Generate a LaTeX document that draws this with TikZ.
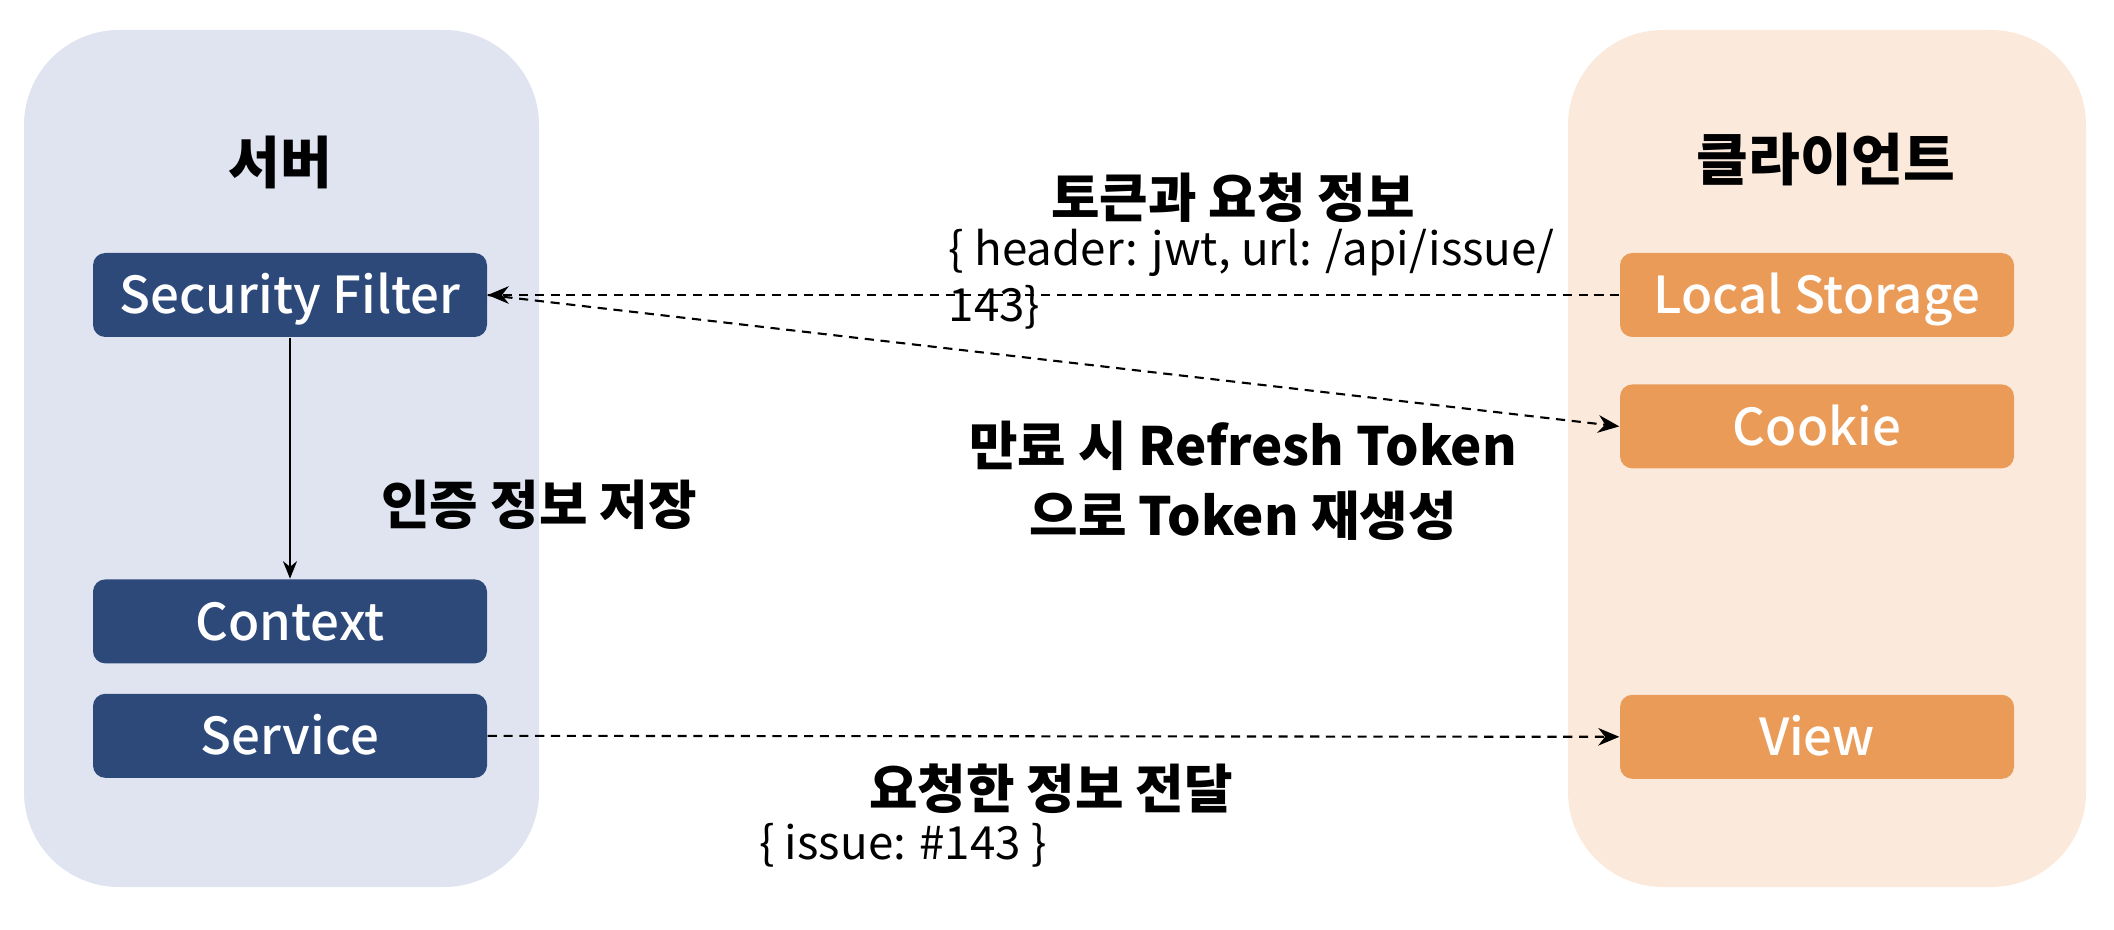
\documentclass[tikz,border=0pt]{standalone}
\usepackage{fontspec}
\setmainfont{Noto Sans CJK KR}
\newfontfamily\medfont{Noto Sans CJK KR Medium}
\usetikzlibrary{arrows.meta, positioning}
\definecolor{srvbg}{HTML}{DFE4F0}
\definecolor{clibg}{HTML}{FBEADC}
\definecolor{navycol}{HTML}{2C497A}
\definecolor{orangecol}{HTML}{EA9B58}

\begin{document}
\begin{tikzpicture}[
  panel/.style={fill=#1, draw=none, rounded corners=0.95cm},
  box/.style={rectangle, rounded corners=3.5pt, fill=#1, text=white,
              minimum width=3.94cm, minimum height=0.84cm, inner sep=0pt,
              text height=10.6pt, text depth=0pt,
              font=\medfont\fontsize{14.5}{17}\selectfont},
  ttl/.style={font=\fontsize{16}{19}\selectfont\bfseries},
  hd/.style={font=\fontsize{15}{18}\selectfont\bfseries, align=center, inner sep=0pt},
  note/.style={font=\fontsize{13}{16}\selectfont, align=left, inner sep=0pt},
  flow/.style={-{Stealth[length=6pt,width=5pt]}, line width=0.6pt,
               dash pattern=on 2.6pt off 1.9pt},
]
  \useasboundingbox (0,0) rectangle (21.14,-9.30);

  % panels
  \fill[panel=srvbg] (0.24,-0.30) rectangle (5.39,-8.87);
  \fill[panel=clibg] (15.68,-0.30) rectangle (20.86,-8.87);
  \node[ttl] (srv) at (2.80,-1.62) {서버};
  \node[ttl] (cli) at (18.26,-1.59) {클라이언트};

  % server side
  \node[box=navycol] (sfilter) at (2.90,-2.95) {Security Filter};
  \node[box=navycol, below=2.41cm of sfilter] (ctx) {Context};
  \node[box=navycol, below=0.29cm of ctx] (svc) {Service};

  % client side
  \node[box=orangecol] (lstore) at (18.17,-2.95) {Local Storage};
  \node[box=orangecol, below=0.46cm of lstore] (cookie) {Cookie};
  \node[box=orangecol, below=2.25cm of cookie] (view) {View};

  % labels
  \node[hd] (savelbl) at (5.39,-5.05) {인증 정보 저장};
  \node[hd] (reqlbl) at (12.33,-1.98) {토큰과 요청 정보};
  \node[note, anchor=west] (reqdata) at (9.48,-2.79) {\{ header: jwt, url: /api/issue/\\143\}};
  \node[hd] (refreshlbl) at (12.43,-4.81) {만료 시 Refresh Token\\[2pt]으로 Token 재생성};
  \node[hd] (resplbl) at (10.51,-7.89) {요청한 정보 전달};
  \node[note] (respdata) at (9.03,-8.45) {\{ issue: \#143 \}};

  % connectors
  \draw[-{Stealth[length=5pt,width=4pt]}, line width=0.5pt] (sfilter) -- (ctx);
  \draw[flow] (lstore.west) -- (sfilter.east);
  \draw[flow] (sfilter.east) -- (cookie.west);
  \draw[flow] (svc.east) -- (view.west);
\end{tikzpicture}
\end{document}
